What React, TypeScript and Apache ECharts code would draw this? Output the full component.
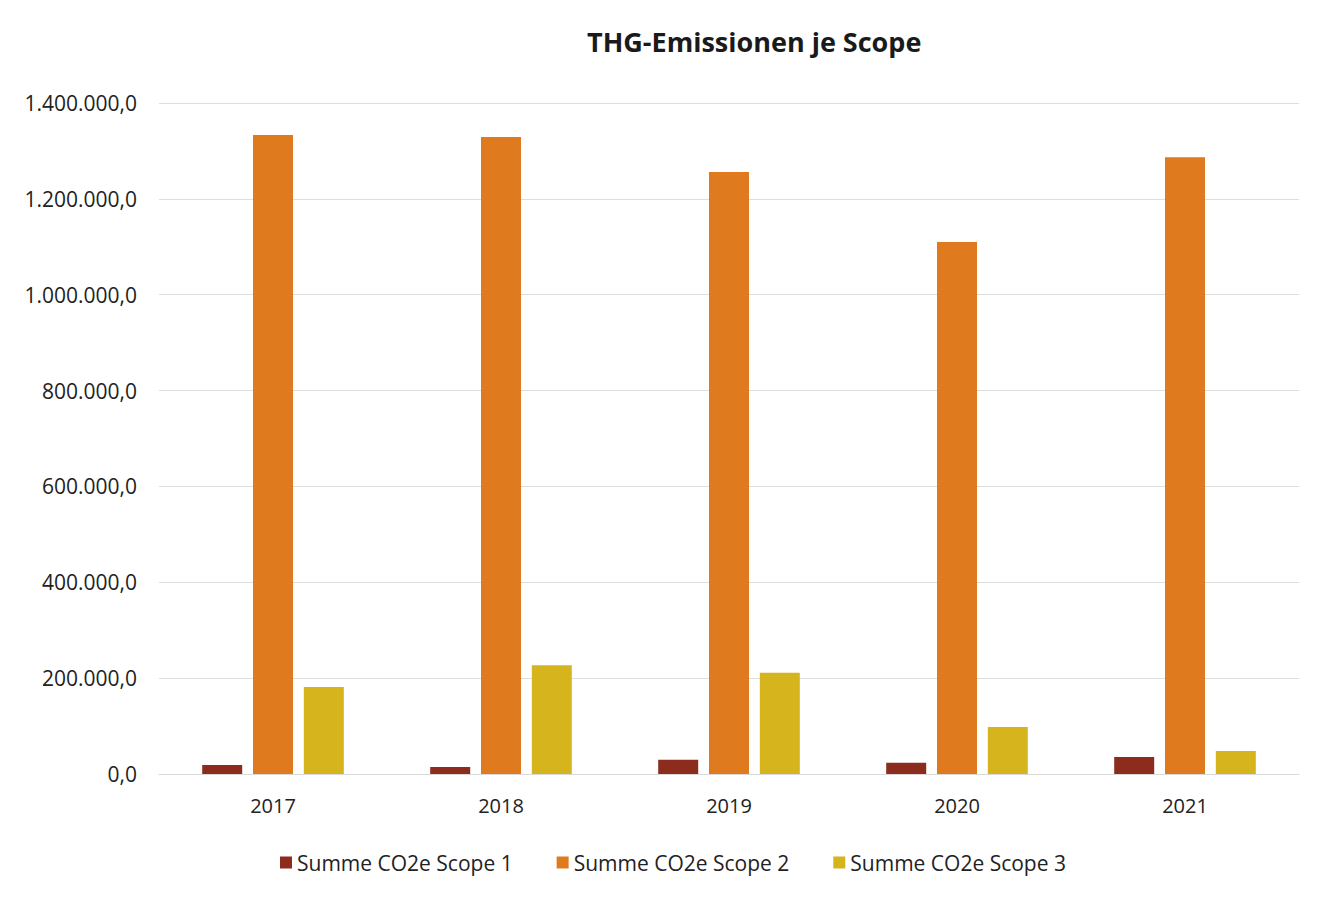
import React, { useEffect, useRef } from "react";
import * as echarts from "echarts";

const years = ["2017", "2018", "2019", "2020", "2021"];
const scope1 = [18800, 14800, 29500, 23500, 35500];
const scope2 = [1333000, 1329000, 1256000, 1110000, 1287000];
const scope3 = [181500, 227000, 211000, 98000, 48000];
const seriesNames = ["Summe CO2e Scope 1", "Summe CO2e Scope 2", "Summe CO2e Scope 3"];
const colors = ["#8b2c1c", "#e07a1f", "#d5b41d"];

const fmt = (v: number) => {
  const s = Math.round(v).toString().replace(/\B(?=(\d{3})+(?!\d))/g, ".");
  return s + ",0";
};

export default function App() {
  const ref = useRef<HTMLDivElement>(null);
  useEffect(() => {
    const chart = echarts.init(ref.current!, undefined, { renderer: "svg" });
    const font = "'Open Sans', 'Noto Sans', sans-serif";
    const data = [scope1, scope2, scope3];
    chart.setOption({
      animation: false,
      backgroundColor: "#ffffff",
      title: {
        text: "THG-Emissionen je Scope",
        left: 574,
        top: 15,
        textStyle: { fontFamily: font, fontSize: 27, fontWeight: "bold", color: "#1a1a1a" },
      },
      grid: { left: 151, right: 28, top: 95, bottom: 117, containLabel: false },
      xAxis: {
        type: "category",
        data: years,
        axisLine: { show: true, lineStyle: { color: "#d9d9d9" } },
        axisTick: { show: false },
        axisLabel: { fontFamily: font, fontSize: 20, color: "#222", margin: 21 },
      },
      yAxis: {
        type: "value",
        min: 0,
        max: 1400000,
        interval: 200000,
        axisLine: { show: false },
        axisTick: { show: false },
        splitLine: { lineStyle: { color: "#dedede" } },
        axisLabel: { fontFamily: font, fontSize: 21, color: "#222", margin: 22, formatter: fmt },
      },
      legend: {
        top: 839,
        left: 267,
        itemWidth: 12,
        itemHeight: 12,
        itemGap: 44,
        icon: "rect",
        textStyle: { fontFamily: font, fontSize: 21, color: "#222" },
        data: seriesNames,
      },
      series: seriesNames.map((n, i) => ({
        name: n,
        type: "bar",
        data: data[i],
        barWidth: 40,
        barGap: "27%",
        itemStyle: { color: colors[i] },
      })),
    });
    return () => chart.dispose();
  }, []);
  return <div ref={ref} style={{ width: 1319, height: 883 }} />;
}
